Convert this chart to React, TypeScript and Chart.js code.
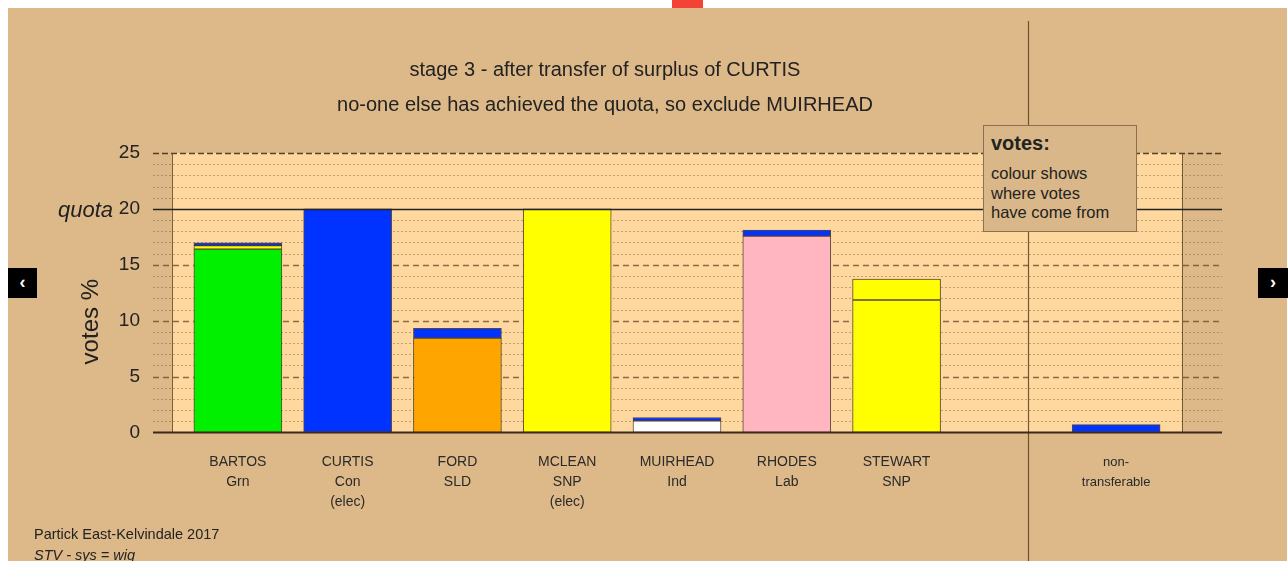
import React, { useEffect, useRef } from 'react';
import { Chart, registerables } from 'chart.js';

Chart.register(...registerables);

// ---- data ----
const xLabels: (string | string[])[] = [
  ['BARTOS', 'Grn'],
  ['CURTIS', 'Con', '(elec)'],
  ['FORD', 'SLD'],
  ['MCLEAN', 'SNP', '(elec)'],
  ['MUIRHEAD', 'Ind'],
  ['RHODES', 'Lab'],
  ['STEWART', 'SNP'],
  '',
  ['non-', 'transferable'],
];
const ownVotes = [16.4, 20, 8.44, 20, 1.04, 17.56, 11.85, null, null];
const ownColours = ['#00F000', '#0033FF', '#FFA500', '#FFFF00', '#FFFFFF', '#FFB6C1', '#FFFF00', '#FFFFFF', '#FFFFFF'];
const fromMclean = [0.32, null, null, null, null, null, 1.87, null, null];
const fromCurtis = [0.24, null, 0.87, null, 0.3, 0.54, null, null, 0.7];
const yTickValues = [0, 5, 10, 15, 20, 25];
const quota = 20;
const titleLines = [
  'stage 3 - after transfer of surplus of CURTIS',
  'no-one else has achieved the quota, so exclude MUIRHEAD',
];
const legendTitle = 'votes:';
const legendLines = ['colour shows', 'where votes', 'have come from'];
const footerLines = ['Partick East-Kelvindale 2017', 'STV - sys = wig'];

const FONT = '"Liberation Sans", Arial, Helvetica, sans-serif';
const PANEL_BG = '#DDB888';
const PLOT_BG = '#FFD8A0';
const BAR_BORDER = 'rgba(50,38,25,0.8)';

const toPoints = (arr: (number | null)[]) => arr.map((y, x) => ({ x, y }));

const decorPlugin = {
  id: 'decor',
  beforeDatasetsDraw(chart: any) {
    const { ctx, chartArea: a, scales } = chart;
    const x = scales.x;
    const y = scales.y;
    ctx.save();
    ctx.fillStyle = PLOT_BG;
    ctx.fillRect(a.left, a.top, a.right - a.left, a.bottom - a.top);
    const x0 = a.left - 19;
    const x1 = a.right + 40;
    for (let v = 1; v <= 25; v++) {
      if (v === quota) continue;
      const py = Math.round(y.getPixelForValue(v)) + 0.5;
      ctx.beginPath();
      if (v === 25) {
        ctx.setLineDash([6, 3]);
        ctx.strokeStyle = 'rgba(70,50,30,0.9)';
        ctx.lineWidth = 1.3;
      } else if (v % 5 === 0) {
        ctx.setLineDash([6, 4]);
        ctx.strokeStyle = 'rgba(100,70,35,0.75)';
        ctx.lineWidth = 1.3;
      } else {
        ctx.setLineDash([2, 2]);
        ctx.strokeStyle = 'rgba(120,90,50,0.45)';
        ctx.lineWidth = 1;
      }
      ctx.moveTo(x0, py);
      ctx.lineTo(x1, py);
      ctx.stroke();
    }
    ctx.setLineDash([]);
    // plot borders
    ctx.strokeStyle = 'rgba(90,65,35,0.8)';
    ctx.lineWidth = 1;
    ctx.beginPath();
    ctx.moveTo(Math.round(a.left) + 0.5, a.top);
    ctx.lineTo(Math.round(a.left) + 0.5, a.bottom);
    ctx.moveTo(Math.round(a.right) + 0.5, a.top);
    ctx.lineTo(Math.round(a.right) + 0.5, a.bottom);
    ctx.stroke();
    // separator between candidates and non-transferable
    const sx = Math.round(x.getPixelForValue(7.2)) + 0.5;
    ctx.strokeStyle = 'rgba(90,65,35,0.85)';
    ctx.lineWidth = 1.2;
    ctx.beginPath();
    ctx.moveTo(sx, 13);
    ctx.lineTo(sx, chart.height);
    ctx.stroke();
    // quota label
    ctx.fillStyle = '#222';
    ctx.font = 'italic 22px ' + FONT;
    ctx.textAlign = 'right';
    ctx.textBaseline = 'middle';
    ctx.fillText('quota', 105, y.getPixelForValue(quota) + 2);
    // y axis title
    ctx.save();
    ctx.translate(83, y.getPixelForValue(10) + 1);
    ctx.rotate(-Math.PI / 2);
    ctx.textAlign = 'center';
    ctx.textBaseline = 'middle';
    ctx.font = '24px ' + FONT;
    ctx.fillText('votes %', 0, 0);
    ctx.restore();
    ctx.restore();
  },
  afterDatasetsDraw(chart: any) {
    const { ctx, chartArea: a, scales } = chart;
    const y = scales.y;
    const x0 = a.left - 19;
    const x1 = a.right + 40;
    ctx.save();
    ctx.setLineDash([]);
    const qy = Math.round(y.getPixelForValue(quota)) + 0.5;
    ctx.strokeStyle = '#222';
    ctx.lineWidth = 1.5;
    ctx.beginPath();
    ctx.moveTo(x0, qy);
    ctx.lineTo(x1, qy);
    ctx.stroke();
    const zy = y.getPixelForValue(0);
    ctx.strokeStyle = '#3a2a1a';
    ctx.lineWidth = 2;
    ctx.beginPath();
    ctx.moveTo(x0, zy);
    ctx.lineTo(x1, zy);
    ctx.stroke();
    ctx.restore();
  },
};

export default function App() {
  const ref = useRef<HTMLCanvasElement>(null);
  useEffect(() => {
    Chart.defaults.font.family = FONT;
    const barCommon = {
      borderColor: BAR_BORDER,
      borderWidth: 1,
      borderSkipped: false,
      barThickness: 88,
      stack: 'votes',
    };
    const chart = new Chart(ref.current as HTMLCanvasElement, {
      type: 'bar',
      data: {
        datasets: [
          { label: 'own votes', data: toPoints(ownVotes), backgroundColor: ownColours, ...barCommon },
          { label: 'from MCLEAN', data: toPoints(fromMclean), backgroundColor: '#FFFF00', ...barCommon },
          { label: 'from CURTIS', data: toPoints(fromCurtis), backgroundColor: '#0033FF', ...barCommon },
        ],
      } as any,
      options: {
        animation: false,
        responsive: false,
        layout: { padding: { top: 145, right: 105, left: 0, bottom: 0 } },
        plugins: { legend: { display: false }, tooltip: { enabled: false }, title: { display: false } },
        scales: {
          x: {
            type: 'linear',
            min: -0.6,
            max: 8.6,
            offset: false,
            stacked: true,
            grid: { display: false, drawTicks: false, tickLength: 0, offset: false },
            border: { display: false },
            afterBuildTicks: (scale: any) => {
              scale.ticks = xLabels.map((_, i) => ({ value: i }));
            },
            afterFit: (scale: any) => {
              scale.height = 128.5;
            },
            ticks: {
              autoSkip: false,
              maxRotation: 0,
              minRotation: 0,
              padding: 20,
              color: '#2a2a2a',
              font: (ctx: any) => ({ size: ctx.index === 8 ? 13 : 14, lineHeight: '20px', family: FONT }),
              callback: (value: any) => {
                const l = xLabels[value as number];
                return l === undefined ? '' : l;
              },
            },
          },
          y: {
            type: 'linear',
            min: 0,
            max: 25,
            stacked: true,
            grid: { display: false, drawTicks: false, tickLength: 0 },
            border: { display: false },
            afterBuildTicks: (scale: any) => {
              scale.ticks = yTickValues.map((v) => ({ value: v }));
            },
            afterFit: (scale: any) => {
              scale.width = 164;
            },
            ticks: {
              padding: 32,
              color: '#222',
              font: { size: 19, family: FONT },
            },
          },
        },
      } as any,
      plugins: [decorPlugin],
    });
    return () => chart.destroy();
  }, []);

  return (
    <>
      <div style={{ position: 'fixed', left: 672, top: 0, width: 31, height: 8, background: '#F44336' }} />
      <div
        style={{
          position: 'fixed',
          left: 8,
          top: 8,
          width: 1279,
          height: 553,
          background: PANEL_BG,
          overflow: 'hidden',
          fontFamily: FONT,
          color: '#222',
        }}
      >
        <canvas ref={ref} width={1279} height={553} style={{ position: 'absolute', left: 0, top: 0, width: 1279, height: 553 }} />
        {titleLines.map((t, i) => (
          <div
            key={i}
            style={{
              position: 'absolute',
              left: 597,
              top: 49 + i * 35,
              transform: 'translateX(-50%)',
              whiteSpace: 'nowrap',
              fontSize: 20,
              lineHeight: '24px',
            }}
          >
            {t}
          </div>
        ))}
        <div
          style={{
            position: 'absolute',
            left: 975,
            top: 117,
            width: 154,
            height: 107,
            boxSizing: 'border-box',
            border: '1px solid #8B6F4E',
            background: '#DAB788',
            padding: '6px 0 0 7px',
          }}
        >
          <div style={{ fontWeight: 'bold', fontSize: 20, lineHeight: '22px' }}>{legendTitle}</div>
          <div style={{ marginTop: 10, fontSize: 16.5, lineHeight: '19.5px' }}>
            {legendLines.map((l, i) => (
              <div key={i}>{l}</div>
            ))}
          </div>
        </div>
        <div style={{ position: 'absolute', left: 26, top: 517, fontSize: 14.5, lineHeight: '18px', whiteSpace: 'nowrap' }}>
          {footerLines[0]}
        </div>
        <div
          style={{
            position: 'absolute',
            left: 26,
            top: 538,
            fontSize: 14.5,
            lineHeight: '18px',
            fontStyle: 'italic',
            whiteSpace: 'nowrap',
          }}
        >
          {footerLines[1]}
        </div>
      </div>
      <div
        style={{
          position: 'fixed',
          left: 8,
          top: 268,
          width: 29,
          height: 30,
          background: '#000',
          color: '#fff',
          fontFamily: FONT,
          fontWeight: 'bold',
          fontSize: 18,
          lineHeight: '28px',
          textAlign: 'center',
        }}
      >
        ‹
      </div>
      <div
        style={{
          position: 'fixed',
          left: 1258,
          top: 268,
          width: 30,
          height: 30,
          background: '#000',
          color: '#fff',
          fontFamily: FONT,
          fontWeight: 'bold',
          fontSize: 18,
          lineHeight: '28px',
          textAlign: 'center',
        }}
      >
        ›
      </div>
    </>
  );
}
